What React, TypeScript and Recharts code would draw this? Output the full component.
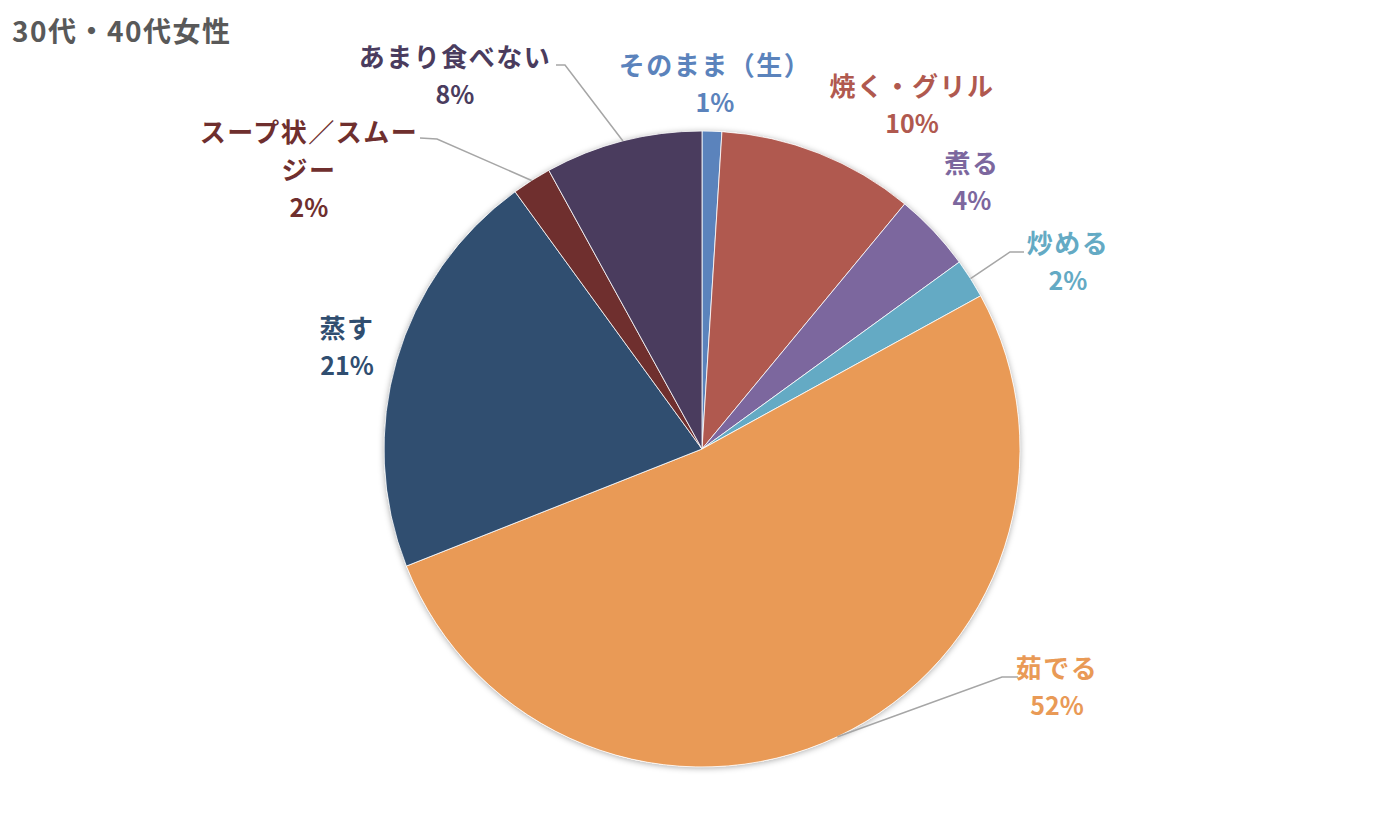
import { PieChart, Pie, Cell } from 'recharts'

const TITLE = '30代・40代女性'
const CATEGORIES = ['そのまま（生）', '焼く・グリル', '煮る', '炒める', '茹でる', '蒸す', 'スープ状／スムージー', 'あまり食べない']
const VALUES = [1, 10, 4, 2, 52, 21, 2, 8]
const COLORS = ['#5b83bc', '#b0594f', '#7c679e', '#64aac4', '#e99a56', '#304e70', '#6f2f2e', '#4a3c5e']

// label layout relative to the pie centre: text x, first line y, line breaks, leader bend
const LABEL_LAYOUT = [
  { dx: 13, dy: -386, lines: ['そのまま（生）'] },
  { dx: 210, dy: -365, lines: ['焼く・グリル'] },
  { dx: 270, dy: -288, lines: ['煮る'] },
  { dx: 366, dy: -208, lines: ['炒める'], bend: [308, -197], end: [322, -197] },
  { dx: 355, dy: 217, lines: ['茹でる'], bend: [300, 228], end: [316, 228] },
  { dx: -355, dy: -123, lines: ['蒸す'] },
  { dx: -393, dy: -319, lines: ['スープ状／スムー', 'ジー'], bend: [-265, -310], end: [-282, -311] },
  { dx: -247, dy: -394, lines: ['あまり食べない'], bend: [-137, -384], end: [-146, -384] },
]

const data = CATEGORIES.map((name, i) => ({ name, value: VALUES[i] }))
const RAD = Math.PI / 180
const FONT = '"Noto Sans CJK JP", "Noto Sans", sans-serif'

function renderLabel(props: any) {
  const { cx, cy, midAngle, outerRadius, index } = props
  const l = LABEL_LAYOUT[index]
  const color = COLORS[index]
  const x = cx + l.dx
  const y = cy + l.dy
  const lh = 38
  let line = null
  if (l.bend) {
    const sx = cx + outerRadius * Math.cos(-midAngle * RAD)
    const sy = cy + outerRadius * Math.sin(-midAngle * RAD)
    line = (
      <polyline
        points={`${sx},${sy} ${cx + l.bend[0]},${cy + l.bend[1]} ${cx + l.end[0]},${cy + l.end[1]}`}
        fill="none" stroke="#a6a6a6" strokeWidth={1.5}
      />
    )
  }
  return (
    <g key={`lbl-${index}`}>
      {line}
      <text x={x} y={y} textAnchor="middle" dominantBaseline="central" fill={color}
        fontFamily={FONT} fontWeight={700} fontSize={26} letterSpacing={1.5}>
        {l.lines.map((t, k) => (
          <tspan key={k} x={x} y={y + k * lh}>{t}</tspan>
        ))}
        <tspan x={x} y={y + l.lines.length * lh} fontSize={25} letterSpacing={0}>{`${VALUES[index]}%`}</tspan>
      </text>
    </g>
  )
}

export default function App() {
  return (
    <div style={{ position: 'absolute', left: 0, top: 0, width: 1400, height: 840, background: '#fff' }}>
      <div style={{
        position: 'absolute', left: 12, top: 10, fontFamily: FONT, fontWeight: 700,
        fontSize: 28, letterSpacing: 1.5, color: '#595959', lineHeight: '40px',
      }}>
        {TITLE}
      </div>
      <PieChart width={1400} height={840} margin={{ top: 0, right: 0, bottom: 0, left: 0 }}>
        <defs>
          <filter id="pieShadow" x="-10%" y="-10%" width="120%" height="120%">
            <feDropShadow dx="0" dy="1" stdDeviation="3" floodColor="#000" floodOpacity="0.35" />
          </filter>
        </defs>
        <Pie
          data={[{ name: 'bg', value: 1 }]} dataKey="value" cx={702} cy={449}
          outerRadius={318} startAngle={90} endAngle={-270} stroke="none"
          isAnimationActive={false}
        >
          <Cell fill="#ffffff" filter="url(#pieShadow)" />
        </Pie>
        <Pie
          data={data} dataKey="value" nameKey="name" cx={702} cy={449}
          outerRadius={318} startAngle={90} endAngle={-270}
          stroke="#ffffff" strokeWidth={0.8} label={renderLabel} labelLine={false}
          isAnimationActive={false}
        >
          {data.map((_, i) => (
            <Cell key={i} fill={COLORS[i]} />
          ))}
        </Pie>
      </PieChart>
    </div>
  )
}
